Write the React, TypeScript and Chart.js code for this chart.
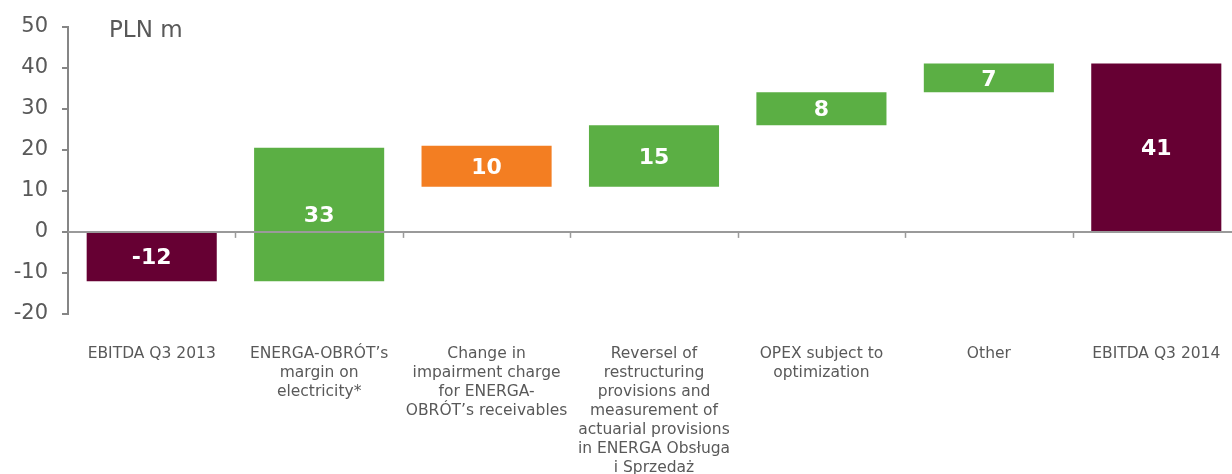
import React, { useEffect, useRef } from "react";
import { Chart, registerables } from "chart.js";

Chart.register(...registerables);

const categories: string[][] = [
  ["EBITDA Q3 2013"],
  ["ENERGA-OBRÓT’s", "margin on", "electricity*"],
  ["Change in", "impairment charge", "for ENERGA-", "OBRÓT’s receivables"],
  ["Reversel of", "restructuring", "provisions and", "measurement of", "actuarial provisions", "in ENERGA Obsługa", "i Sprzedaż"],
  ["OPEX subject to", "optimization"],
  ["Other"],
  ["EBITDA Q3 2014"],
];
const barStart: number[] = [0, -12, 21, 11, 26, 34, 0];
const barEnd: number[] = [-12, 20.5, 11, 26, 34, 41, 41];
const barLabels: string[] = ["-12", "33", "10", "15", "8", "7", "41"];
const barColors: string[] = ["#660033", "#5BAF44", "#F37E22", "#5BAF44", "#5BAF44", "#5BAF44", "#660033"];
const yTicks: number[] = [-20, -10, 0, 10, 20, 30, 40, 50];
const unitLabel = "PLN m";

const FONT = '"DejaVu Sans", Verdana, sans-serif';
const TEXT = "#595959";
const AXIS = "#868686";

export default function App() {
  const ref = useRef<HTMLCanvasElement | null>(null);

  useEffect(() => {
    if (!ref.current) return;
    const overlay = {
      id: "overlay",
      afterDatasetsDraw(chart: any) {
        const ctx = chart.ctx;
        const x = chart.scales.x;
        const y = chart.scales.y;
        const area = chart.chartArea;
        const y0 = y.getPixelForValue(0);
        ctx.save();
        ctx.strokeStyle = "#9A9A9A";
        ctx.lineWidth = 2;
        ctx.beginPath();
        ctx.moveTo(area.left, y0);
        ctx.lineTo(area.right, y0);
        ctx.stroke();
        const n = categories.length;
        for (let i = 1; i < n; i++) {
          const bx = (x.getPixelForValue(i - 1) + x.getPixelForValue(i)) / 2;
          ctx.beginPath();
          ctx.moveTo(Math.round(bx) + 0.5, y0);
          ctx.lineTo(Math.round(bx) + 0.5, y0 + 6);
          ctx.lineWidth = 1.5;
          ctx.stroke();
        }
        const meta = chart.getDatasetMeta(0);
        ctx.fillStyle = "#FFFFFF";
        ctx.font = `bold 22px ${FONT}`;
        ctx.textAlign = "center";
        ctx.textBaseline = "middle";
        meta.data.forEach((bar: any, i: number) => {
          const cy = (y.getPixelForValue(barStart[i]) + y.getPixelForValue(barEnd[i])) / 2 + 2;
          ctx.fillText(barLabels[i], bar.x, cy);
        });
        ctx.fillStyle = TEXT;
        ctx.font = `23px ${FONT}`;
        ctx.textAlign = "left";
        ctx.textBaseline = "middle";
        ctx.fillText(unitLabel, 109, 31);
        ctx.restore();
      },
    };

    const chart = new Chart(ref.current, {
      type: "bar",
      data: {
        labels: categories,
        datasets: [
          {
            data: barStart.map((s, i) => [s, barEnd[i]]) as any,
            backgroundColor: barColors,
            borderWidth: 0,
            barPercentage: 0.777,
            categoryPercentage: 1,
          },
        ],
      },
      options: {
        responsive: false,
        animation: false,
        layout: { padding: { top: 20, left: 0, right: 0, bottom: 0 } },
        plugins: { legend: { display: false }, tooltip: { enabled: false } },
        scales: {
          x: {
            grid: { display: false, drawTicks: false },
            border: { display: false },
            ticks: {
              color: TEXT,
              font: { family: FONT, size: 15.5, lineHeight: 1.226 },
              maxRotation: 0,
              autoSkip: false,
              padding: 30,
            },
            afterFit: (s: any) => {
              s.height = 160;
              s.paddingLeft = 0;
              s.paddingRight = 0;
            },
          },
          y: {
            min: -20,
            max: 50,
            afterBuildTicks: (s: any) => {
              s.ticks = yTicks.map((v) => ({ value: v }));
            },
            grid: { drawOnChartArea: false, drawTicks: true, tickLength: 6, color: AXIS, lineWidth: 2 },
            border: { display: true, color: AXIS, width: 2 },
            ticks: {
              color: TEXT,
              font: { family: FONT, size: 21 },
              padding: 14,
            },
            afterFit: (s: any) => {
              s.width = 68;
            },
          },
        },
      },
      plugins: [overlay],
    });
    return () => chart.destroy();
  }, []);

  return (
    <div style={{ position: "absolute", left: 0, top: 0, width: 1232, height: 474, overflow: "hidden", background: "#fff" }}>
      <canvas ref={ref} width={1240} height={474} style={{ width: 1240, height: 474, display: "block" }} />
    </div>
  );
}
